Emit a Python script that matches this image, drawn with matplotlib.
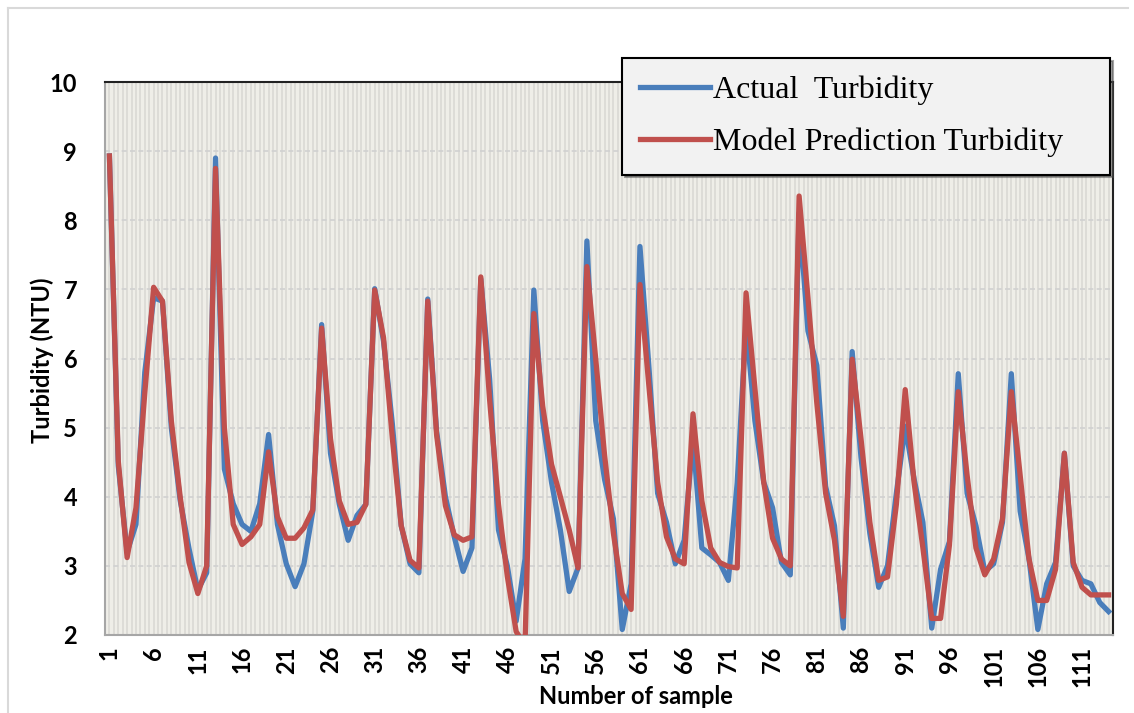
import numpy as np
import matplotlib
matplotlib.use("Agg")
import matplotlib.pyplot as plt
from matplotlib.lines import Line2D

# data (samples 1..114)
actual = [8.93, 4.45, 3.2, 3.6, 5.8, 6.88, 6.83, 5.0, 3.95, 3.25,
          2.65, 2.9, 8.9, 4.4, 3.9, 3.6, 3.5, 3.9, 4.9, 3.6,
          3.03, 2.7, 3.03, 3.79, 6.49, 4.63, 3.89, 3.37, 3.73, 3.89,
          7.01, 6.25, 5.05, 3.58, 3.03, 2.9, 6.86, 4.95, 4.0, 3.42,
          2.92, 3.26, 7.15, 5.7, 3.52, 3.0, 2.2, 3.1, 6.99, 5.1,
          4.21, 3.52, 2.63, 2.97, 7.7, 5.1, 4.25, 3.68, 2.08, 2.74,
          7.62, 5.9, 4.05, 3.63, 3.03, 3.37, 4.84, 3.26, 3.16, 3.05,
          2.79, 4.2, 6.5, 5.1, 4.21, 3.84, 3.05, 2.87, 8.1, 6.4,
          5.9, 4.15, 3.58, 2.1, 6.1, 4.57, 3.47, 2.69, 3.0, 4.05,
          5.02, 4.26, 3.63, 2.1, 2.95, 3.35, 5.78, 4.05, 3.58, 2.92,
          3.03, 3.63, 5.78, 3.79, 3.1, 2.08, 2.74, 3.05, 4.63, 3.0,
          2.79, 2.74, 2.47, 2.34]
predicted = [8.93, 4.52, 3.12, 3.84, 5.5, 7.03, 6.83, 5.1, 4.0, 3.05,
             2.6, 3.0, 8.75, 5.0, 3.6, 3.31, 3.42, 3.6, 4.65, 3.71,
             3.4, 3.4, 3.55, 3.81, 6.44, 4.84, 3.94, 3.6, 3.63, 3.89,
             6.99, 6.3, 4.84, 3.58, 3.08, 2.97, 6.83, 4.9, 3.87, 3.45,
             3.37, 3.42, 7.18, 5.4, 3.89, 2.85, 2.05, 1.85, 6.65, 5.31,
             4.47, 4.0, 3.52, 2.97, 7.33, 5.99, 4.6, 3.47, 2.6, 2.37,
             7.07, 5.62, 4.21, 3.42, 3.1, 3.03, 5.2, 3.94, 3.26, 3.05,
             2.99, 2.97, 6.95, 5.57, 4.21, 3.4, 3.1, 3.0, 8.35, 6.88,
             5.36, 4.05, 3.37, 2.27, 5.99, 4.84, 3.63, 2.79, 2.84, 3.89,
             5.55, 4.21, 3.26, 2.24, 2.24, 3.3, 5.52, 4.31, 3.26, 2.87,
             3.1, 3.68, 5.52, 4.31, 3.1, 2.5, 2.5, 2.95, 4.63, 3.05,
             2.69, 2.58, 2.58, 2.58]
samples = np.arange(1, len(actual) + 1)
xtick_labels = list(range(1, 112, 5))
yticks = list(range(2, 11))

blue = '#4a7ebb'
red = '#c0504d'

fig = plt.figure(figsize=(11.34, 7.13), dpi=100)
ax = fig.add_axes([105 / 1134, 1 - 635 / 713, 1008 / 1134, 553 / 713])

# excel-like textured plot area
ax.set_facecolor('#efeee8')
for xv in np.arange(0.5, len(samples) + 0.6, 0.5):
    ax.axvline(xv, color='#dcdbd6', lw=1.3, zorder=0)
for yv in yticks[1:-1]:
    ax.axhline(yv, color='#d0d0d0', lw=1.2, ls=(0, (3, 2)), zorder=1)

ax.plot(samples, actual, color=blue, lw=3.8, zorder=3, label='Actual  Turbidity')
ax.plot(samples, predicted, color=red, lw=3.8, zorder=4, label='Model Prediction Turbidity')

ax.set_xlim(0.5, len(samples) + 0.5)
ax.set_ylim(2, 10)
ax.set_yticks(yticks)
ax.set_xticks(xtick_labels)
ax.set_xticklabels([str(v) for v in xtick_labels], rotation=90)
ax.tick_params(axis='x', length=0, pad=8)
ax.tick_params(axis='y', length=0, pad=20)
for lab in ax.get_xticklabels() + ax.get_yticklabels():
    lab.set_fontfamily('Lato')
    lab.set_fontweight('bold')
    lab.set_fontsize(17)

for side in ['left', 'bottom']:
    ax.spines[side].set_color('#a6a6a6')
    ax.spines[side].set_linewidth(1.5)
for side in ['top', 'right']:
    ax.spines[side].set_color('#222222')
    ax.spines[side].set_linewidth(1.5)

fig.text(42 / 1134, 1 - 360 / 713, 'Turbidity (NTU)', fontfamily='Lato', fontweight='bold',
         fontsize=17, rotation=90, ha='center', va='center')
fig.text(636 / 1134, 1 - 697 / 713, 'Number of sample', fontfamily='Lato',
         fontweight='bold', fontsize=17, ha='center', va='center')

leg = ax.legend(loc='upper left',
                bbox_to_anchor=(622 / 1134, 1 - 170 / 713, 488 / 1134, 112 / 713),
                bbox_transform=fig.transFigure, mode='expand', fancybox=False, shadow=True,
                prop={'family': 'Liberation Serif', 'size': 23},
                handlelength=2.2, handletextpad=0.1, borderpad=0.55,
                labelspacing=0.7, borderaxespad=0, framealpha=1)
leg.get_frame().set_facecolor('#f2f2f2')
leg.get_frame().set_edgecolor('black')
leg.get_frame().set_linewidth(1.5)
leg.set_zorder(10)

# light chart-area border
fig.add_artist(Line2D([8 / 1134, 8 / 1134], [0, 1 - 8 / 713], color='#d9d9d9', lw=1.5))
fig.add_artist(Line2D([8 / 1134, 1128 / 1134], [1 - 8 / 713, 1 - 8 / 713], color='#d9d9d9', lw=1.5))

fig.savefig('out.png', dpi=100)
